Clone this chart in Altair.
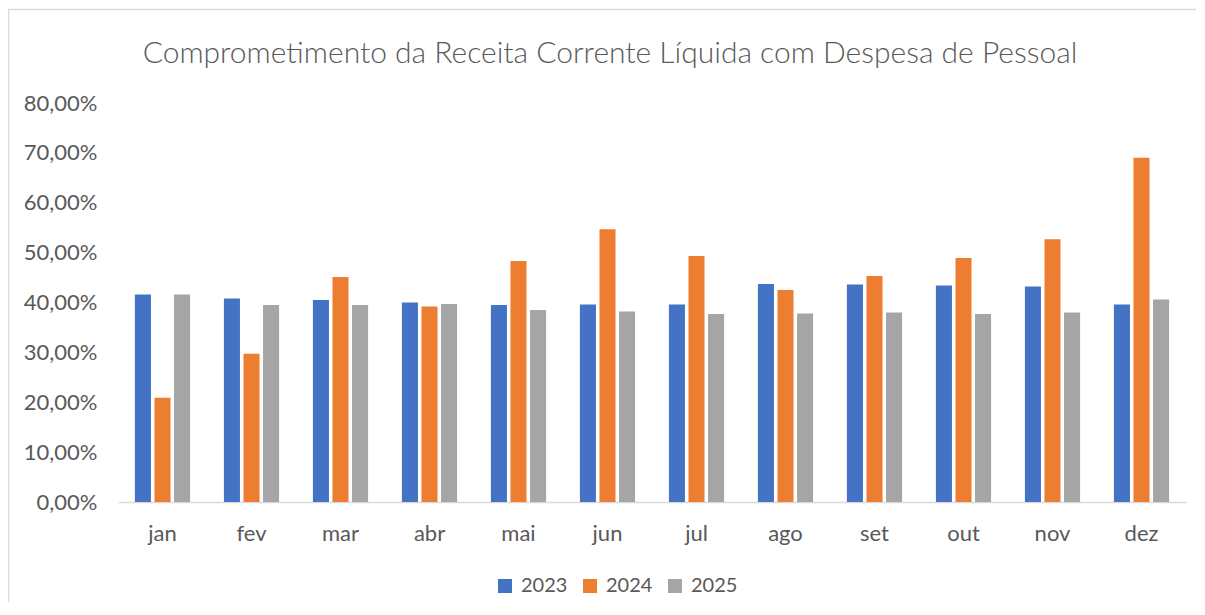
import altair as alt
import pandas as pd

months = ["jan", "fev", "mar", "abr", "mai", "jun", "jul", "ago", "set", "out", "nov", "dez"]
years = ["2023", "2024", "2025"]
v2023 = [41.6, 40.8, 40.5, 40.0, 39.5, 39.6, 39.6, 43.7, 43.6, 43.4, 43.2, 39.6]
v2024 = [20.9, 29.7, 45.1, 39.2, 48.3, 54.7, 49.3, 42.5, 45.3, 48.9, 52.7, 69.0]
v2025 = [41.6, 39.5, 39.5, 39.7, 38.5, 38.2, 37.7, 37.8, 38.0, 37.7, 38.0, 40.6]
colors = ["#4472C4", "#ED7D31", "#A5A5A5"]

rows = []
for y, vals in zip(years, [v2023, v2024, v2025]):
    for m, v in zip(months, vals):
        rows.append({"mes": m, "ano": y, "valor": v / 100})
df = pd.DataFrame(rows)

FONT = "Lato"
GRAY = "#595959"

bars = alt.Chart(df).mark_bar().encode(
    x=alt.X("mes:N", sort=months, title=None,
            scale=alt.Scale(paddingInner=0.38, paddingOuter=0.19),
            axis=alt.Axis(labelAngle=0, labelFontSize=22, labelColor=GRAY, labelFont=FONT,
                          labelPadding=21, ticks=False, domainColor="#D9D9D9", domainWidth=1.5)),
    xOffset=alt.XOffset("ano:N", sort=years, scale=alt.Scale(paddingInner=0.18, paddingOuter=0)),
    y=alt.Y("valor:Q", title=None,
            scale=alt.Scale(domain=[0, 0.8], nice=False),
            axis=alt.Axis(values=[0, 0.1, 0.2, 0.3, 0.4, 0.5, 0.6, 0.7, 0.8],
                          labelExpr="replace(format(datum.value, '.2%'), '.', ',')",
                          labelFontSize=22, labelColor=GRAY, labelFont=FONT, labelPadding=21,
                          ticks=False, domain=False, grid=False)),
    color=alt.Color("ano:N", sort=years, scale=alt.Scale(domain=years, range=colors),
                    legend=alt.Legend(title=None, orient="none", direction="horizontal",
                                      legendX=377, legendY=473, symbolType="square",
                                      symbolSize=196, symbolStrokeWidth=0,
                                      labelFontSize=20, labelColor=GRAY, labelFont=FONT,
                                      labelOffset=6, columnPadding=12)),
)

frame = alt.Chart(pd.DataFrame({"k": [0]})).mark_rect(
    fill=None, stroke="#D9D9D9", strokeWidth=1.5, clip=False
).encode(x=alt.value(-109.5), x2=alt.value(1200), y=alt.value(-93.5), y2=alt.value(600))

chart = alt.layer(frame, bars).properties(
    width=1068, height=399,
    title=alt.TitleParams("Comprometimento da Receita Corrente Líquida com Despesa de Pessoal",
                          fontSize=30, font=FONT, fontWeight=300, color=GRAY,
                          anchor="middle", dx=-42, offset=-60),
    autosize=alt.AutoSizeParams(type="none"),
    padding={"left": 110, "top": 95, "right": 10, "bottom": 100},
).configure_view(stroke=None)

chart.save("out.html", embed_options={"renderer": "svg", "actions": False})
